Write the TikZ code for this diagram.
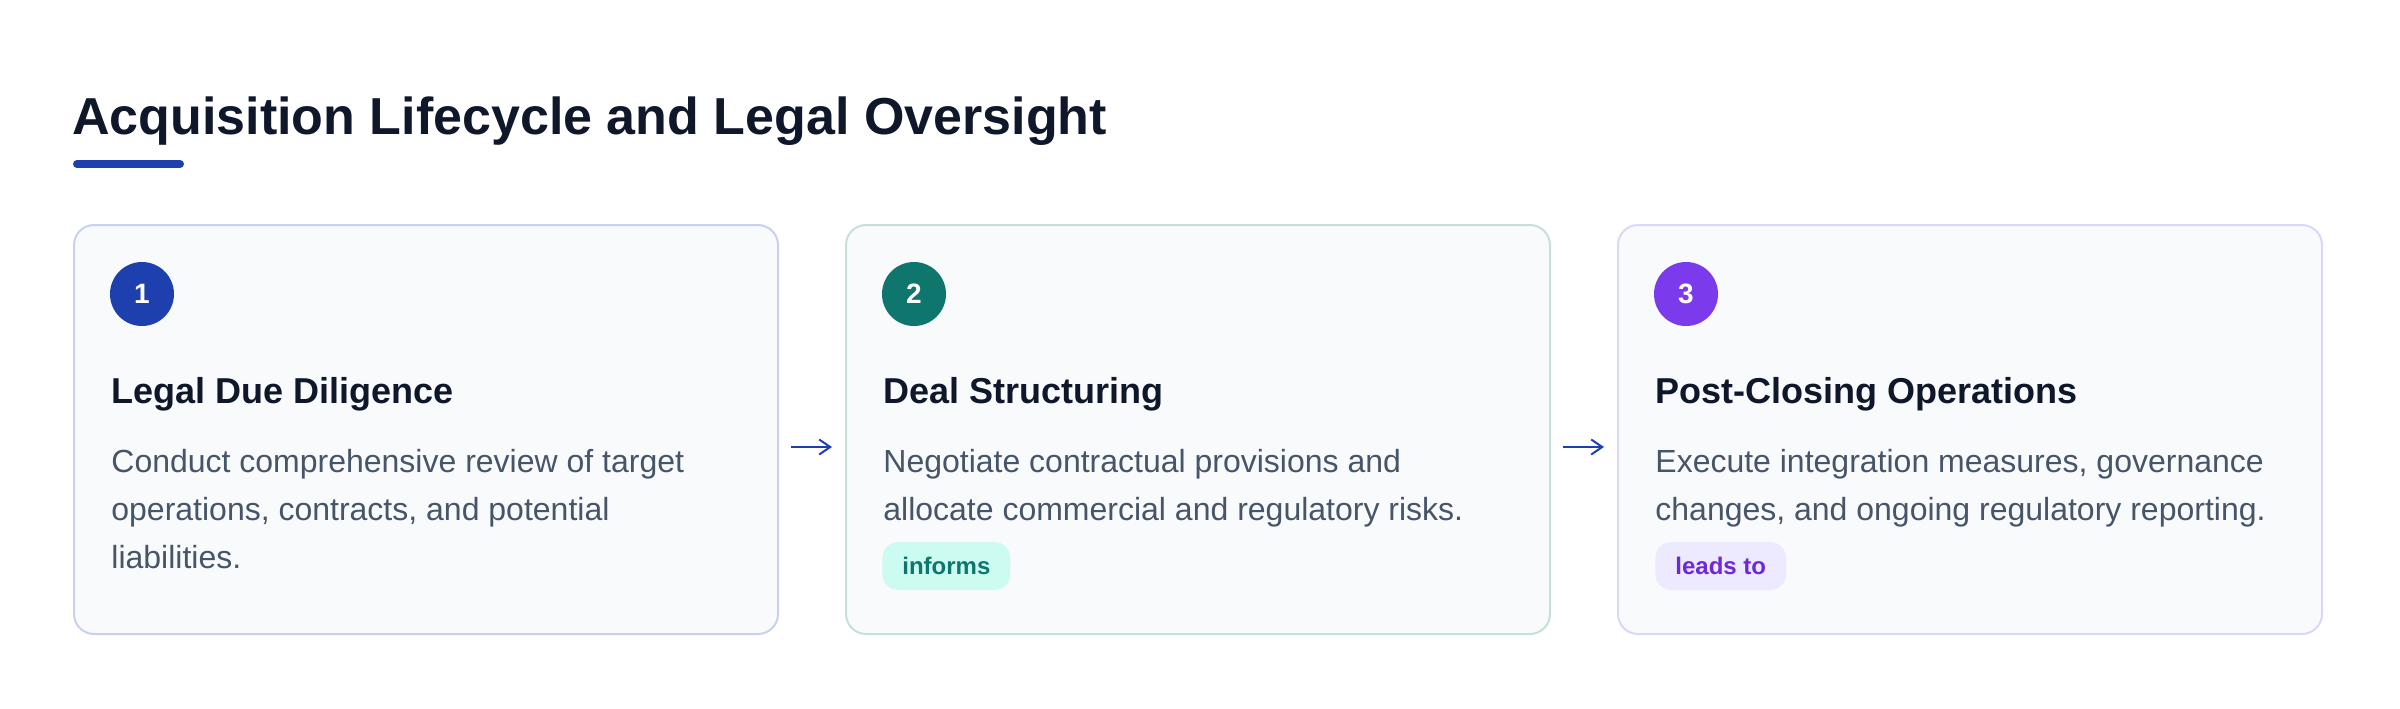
\documentclass[tikz,border=0pt]{standalone}
\usepackage{fontspec}
\setmainfont{Liberation Sans}
\usetikzlibrary{arrows.meta,calc}
\definecolor{ink}{HTML}{0F172A}
\definecolor{body}{HTML}{475569}
\definecolor{cardfill}{HTML}{F8FAFC}
\definecolor{blueA}{HTML}{1E40AF}
\definecolor{tealA}{HTML}{0F766E}
\definecolor{violetA}{HTML}{7C3AED}
\definecolor{bdA}{HTML}{C9D1F0}
\definecolor{bdB}{HTML}{C6DFDA}
\definecolor{bdC}{HTML}{DDD6FC}
\definecolor{tealBg}{HTML}{CCFBF1}
\definecolor{violetBg}{HTML}{EDE9FE}
\definecolor{violetTx}{HTML}{6D28D9}
\newcommand\desclines[1]{\vtop{#1}}
\begin{document}
\begin{tikzpicture}[x=0.5pt,y=-0.5pt,
  card/.style={draw=#1,fill=cardfill,line width=1pt,rounded corners=10pt,
    minimum width=352pt,minimum height=204.5pt,inner sep=0pt,outer sep=0pt},
  num/.style={circle,fill=#1,text=white,minimum size=32pt,inner sep=0pt,
    font=\fontsize{14pt}{16pt}\selectfont\bfseries},
  heading/.style={anchor=base west,inner sep=0pt,text=ink,
    font=\fontsize{18pt}{22pt}\selectfont\bfseries},
  desc/.style={anchor=base west,inner sep=0pt,text=body,
    font=\fontsize{16pt}{24pt}\selectfont},
  badge/.style={fill=#1,rounded corners=8pt,minimum height=24pt,inner xsep=10pt,
    inner ysep=0pt,font=\fontsize{12pt}{14pt}\selectfont\bfseries},
  flow/.style={draw=blueA,line width=1pt,-{Straight Barb[length=5.5pt,width=7.5pt]},
    shorten <=6.5pt,shorten >=7pt}
]
\useasboundingbox (0,0) rectangle (2400,708);

% title
\node[anchor=base west,inner sep=0pt,text=ink,font=\fontsize{26pt}{30pt}\selectfont\bfseries]
  (title) at (72,134) {Acquisition Lifecycle and Legal Oversight};
\draw[blueA,line width=4pt,line cap=round] (77,164) coordinate (barL) -- (180,164) coordinate (barR);

% cards
\node[card=bdA] (c1) at (426,429.5) {};
\node[card=bdB] (c2) at (1198,429.5) {};
\node[card=bdC] (c3) at (1970,429.5) {};

% numbers
\node[num=blueA] (n1) at (142,294) {1};
\node[num=tealA] (n2) at (914,294) {2};
\node[num=violetA] (n3) at (1686,294) {3};

% headings
\node[heading] (h1) at (111,403) {Legal Due Diligence};
\node[heading] (h2) at (883,403) {Deal Structuring};
\node[heading] (h3) at (1655,403) {Post-Closing Operations};

% descriptions
\node[desc] (d1) at (111,472) {\desclines{\hbox{Conduct comprehensive review of target}\hbox{operations, contracts, and potential}\hbox{liabilities.}}};
\node[desc] (d2) at (883,472) {\desclines{\hbox{Negotiate contractual provisions and}\hbox{allocate commercial and regulatory risks.}}};
\node[desc] (d3) at (1655,472) {\desclines{\hbox{Execute integration measures, governance}\hbox{changes, and ongoing regulatory reporting.}}};

% badges
\node[badge=tealBg,text=tealA,anchor=west] (b2) at (882,566) {informs};
\node[badge=violetBg,text=violetTx,anchor=west] (b3) at (1655,566) {leads to};

% connectors
\draw[flow] ($(c1.east)+(0,17.5)$) -- ($(c2.west)+(0,17.5)$);
\draw[flow] ($(c2.east)+(0,17.5)$) -- ($(c3.west)+(0,17.5)$);
\end{tikzpicture}
\end{document}
